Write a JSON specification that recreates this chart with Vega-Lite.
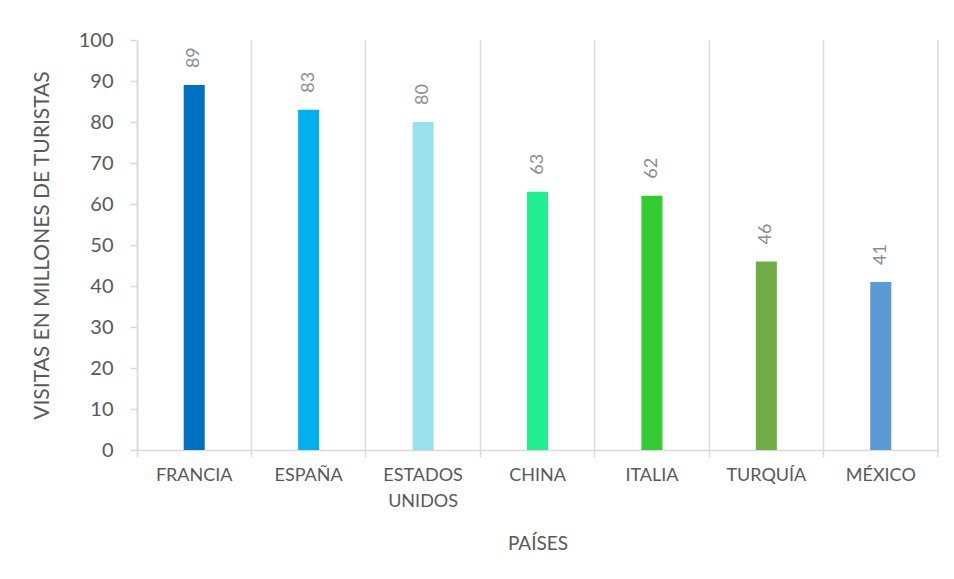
{
  "$schema": "https://vega.github.io/schema/vega-lite/v6.json",
  "autosize": "none",
  "width": 801,
  "height": 410,
  "padding": {"left": 137, "top": 40, "right": 16, "bottom": 129},
  "background": "white",
  "config": {
    "view": {"stroke": null},
    "font": "Lato"
  },
  "data": {
    "values": [
      {"pais": "FRANCIA", "visitas": 89, "color": "#0070c0"},
      {"pais": "ESPAÑA", "visitas": 83, "color": "#00b0f0"},
      {"pais": "ESTADOS UNIDOS", "visitas": 80, "color": "#99e0ee"},
      {"pais": "CHINA", "visitas": 63, "color": "#20ee90"},
      {"pais": "ITALIA", "visitas": 62, "color": "#33cc33"},
      {"pais": "TURQUÍA", "visitas": 46, "color": "#70ad47"},
      {"pais": "MÉXICO", "visitas": 41, "color": "#5b9bd5"}
    ]
  },
  "encoding": {
    "x": {
      "field": "pais",
      "type": "nominal",
      "sort": null,
      "scale": {"paddingInner": 0, "paddingOuter": 0},
      "axis": {
        "title": "PAÍSES",
        "titleFont": "Lato",
        "titleFontSize": 19,
        "titleFontWeight": "normal",
        "titleColor": "#595959",
        "titlePadding": 24,
        "labelAngle": 0,
        "labelFont": "Lato",
        "labelFontSize": 18,
        "labelColor": "#595959",
        "labelPadding": 9,
        "labelLineHeight": 26,
        "labelExpr": "datum.label == 'ESTADOS UNIDOS' ? ['ESTADOS', 'UNIDOS'] : datum.label",
        "bandPosition": 0,
        "grid": true,
        "gridColor": "#d9d9d9",
        "gridWidth": 1.5,
        "domainColor": "#d9d9d9",
        "domainWidth": 1.5,
        "tickColor": "#d9d9d9",
        "tickWidth": 1.5,
        "tickSize": 7
      }
    }
  },
  "layer": [
    {
      "mark": {"type": "bar", "size": 21},
      "encoding": {
        "x": {"field": "pais", "type": "nominal", "sort": null},
        "y": {
          "field": "visitas",
          "type": "quantitative",
          "scale": {"domain": [0, 100]},
          "axis": {
            "title": "VISITAS EN MILLONES DE TURISTAS",
            "titleFont": "Lato",
            "titleFontSize": 21,
            "titleFontWeight": "normal",
            "titleColor": "#595959",
            "titlePadding": 26,
            "values": [0, 10, 20, 30, 40, 50, 60, 70, 80, 90, 100],
            "labelFont": "Lato",
            "labelFontSize": 20,
            "labelColor": "#595959",
            "labelPadding": 17,
            "grid": false,
            "domainColor": "#d9d9d9",
            "domainWidth": 1.5,
            "tickColor": "#d9d9d9",
            "tickWidth": 1.5,
            "tickSize": 7
          }
        },
        "color": {"field": "color", "type": "nominal", "scale": null}
      }
    },
    {
      "mark": {
        "type": "text",
        "angle": 270,
        "align": "left",
        "baseline": "middle",
        "dx": 17,
        "font": "Lato",
        "fontSize": 18,
        "color": "#8c8c8c"
      },
      "encoding": {
        "x": {"field": "pais", "type": "nominal", "sort": null},
        "y": {"field": "visitas", "type": "quantitative"},
        "text": {"field": "visitas", "type": "quantitative"}
      }
    },
    {
      "transform": [{"filter": "datum.pais == 'MÉXICO'"}],
      "mark": {"type": "rule", "color": "#d9d9d9", "strokeWidth": 1.5},
      "encoding": {
        "x": {"field": "pais", "type": "nominal", "sort": null, "bandPosition": 1},
        "y": {"datum": 100},
        "y2": {"datum": -1.7}
      }
    }
  ]
}
